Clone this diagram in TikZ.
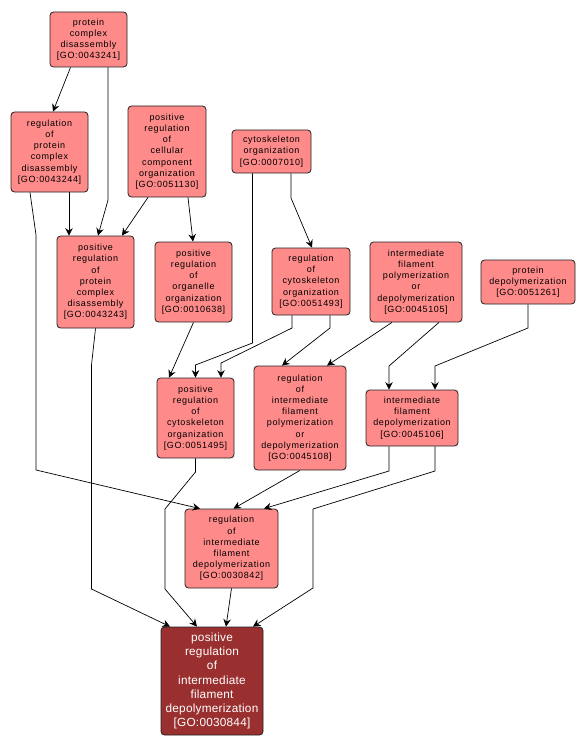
\documentclass[tikz,border=0pt]{standalone}
\usepackage{xcolor}
\usepackage{tikz}
\usepackage{fontspec}
\usetikzlibrary{arrows.meta}
\definecolor{TermPink}{HTML}{FF8A8A}
\definecolor{RootRed}{HTML}{9A2F2F}
\definecolor{EdgeGrey}{HTML}{222222}
\newfontfamily\termfont[LetterSpace=7]{Liberation Sans}
\newfontfamily\rootfont[LetterSpace=2]{Liberation Sans}

\begin{document}
\begin{tikzpicture}[x=1pt, y=-1pt,
    goterm/.style={draw=EdgeGrey, fill=TermPink, line width=0.8pt,
      rounded corners=3.5pt, inner sep=0pt, align=center,
      font=\termfont\fontsize{9}{11.2}\selectfont},
    goroot/.style={goterm, fill=RootRed, text=white,
      font=\rootfont\fontsize{11.8}{14.2}\selectfont},
    isa/.style={draw=black, line width=0.7pt,
      -{Stealth[length=7.5pt, width=7.5pt, inset=2.5pt]}}]
  \useasboundingbox (0,0) rectangle (585,749);

  \node[goterm, minimum width=77, minimum height=55] (go43241) at (88.5,39.5)
    {protein\\complex\\disassembly\\{[}GO:0043241{]}};
  \node[goterm, minimum width=77, minimum height=80] (go43244) at (49.5,152)
    {regulation\\of\\protein\\complex\\disassembly\\{[}GO:0043244{]}};
  \node[goterm, minimum width=78, minimum height=91] (go51130) at (167,151.5)
    {positive\\regulation\\of\\cellular\\component\\organization\\{[}GO:0051130{]}};
  \node[goterm, minimum width=79, minimum height=43] (go7010) at (271.5,151.5)
    {cytoskeleton\\organization\\{[}GO:0007010{]}};
  \node[goterm, minimum width=77, minimum height=92] (go43243) at (95.5,282)
    {positive\\regulation\\of\\protein\\complex\\disassembly\\{[}GO:0043243{]}};
  \node[goterm, minimum width=77, minimum height=80] (go10638) at (193.5,282)
    {positive\\regulation\\of\\organelle\\organization\\{[}GO:0010638{]}};
  \node[goterm, minimum width=78, minimum height=67] (go51493) at (311,281.5)
    {regulation\\of\\cytoskeleton\\organization\\{[}GO:0051493{]}};
  \node[goterm, minimum width=92, minimum height=80] (go45105) at (416,282)
    {intermediate\\filament\\polymerization\\or\\depolymerization\\{[}GO:0045105{]}};
  \node[goterm, minimum width=94, minimum height=44] (go51261) at (528,282)
    {protein\\depolymerization\\{[}GO:0051261{]}};
  \node[goterm, minimum width=77, minimum height=80] (go51495) at (195.5,418)
    {positive\\regulation\\of\\cytoskeleton\\organization\\{[}GO:0051495{]}};
  \node[goterm, minimum width=92, minimum height=104] (go45108) at (300,418)
    {regulation\\of\\intermediate\\filament\\polymerization\\or\\depolymerization\\{[}GO:0045108{]}};
  \node[goterm, minimum width=92, minimum height=56] (go45106) at (412,418)
    {intermediate\\filament\\depolymerization\\{[}GO:0045106{]}};
  \node[goterm, minimum width=93, minimum height=79] (go30842) at (231.5,548.5)
    {regulation\\of\\intermediate\\filament\\depolymerization\\{[}GO:0030842{]}};
  \node[goroot, minimum width=102, minimum height=108] (go30844) at (212,681)
    {positive\\regulation\\of\\intermediate\\filament\\depolymerization\\{[}GO:0030844{]}};

  \draw[isa] ([xshift=-18]go43241.south) -- ([xshift=3.5]go43244.north);
  \draw[isa] ([xshift=19.5]go43241.south) -- (108,200) -- ([xshift=2.5]go43243.north);
  \draw[isa] ([xshift=19.5]go43244.south) -- ([xshift=-26.5]go43243.north);
  \draw[isa] ([xshift=-19]go51130.south) -- ([xshift=26.5]go43243.north);
  \draw[isa] ([xshift=21]go51130.south) -- ([xshift=-0.5]go10638.north);
  \draw[isa] ([xshift=19.5]go7010.south) -- (291,198) -- ([xshift=1]go51493.north);
  \draw[isa] ([xshift=-19.5]go43244.south) -- (36,235) -- (36,470) -- ([xshift=-31.5]go30842.north);
  \draw[isa] (go43243.south) -- (91.5,365) -- (91.5,589) -- ([xshift=-42]go30844.north);
  \draw[isa] (go10638.south) -- ([xshift=-26.5]go51495.north);
  \draw[isa] ([xshift=-19]go7010.south) -- (252.5,343) -- (195.5,365) -- (go51495.north);
  \draw[isa] ([xshift=-19]go51493.south) -- (292,328) -- (221,363) -- ([xshift=25.5]go51495.north);
  \draw[isa] ([xshift=19]go51493.south) -- (330,328) -- ([xshift=-18]go45108.north);
  \draw[isa] ([xshift=-24]go45105.south) -- ([xshift=27]go45108.north);
  \draw[isa] ([xshift=23]go45105.south) -- (389,366) -- ([xshift=-23]go45106.north);
  \draw[isa] (go51261.south) -- (528,328) -- (435,366) -- ([xshift=23]go45106.north);
  \draw[isa] ([xshift=-23]go45106.south) -- (389,471) -- ([xshift=32.5]go30842.north);
  \draw[isa] ([xshift=23]go45106.south) -- (435,471) -- (313,509) -- (313,588) -- ([xshift=41]go30844.north);
  \draw[isa] (go45108.south) -- ([xshift=2]go30842.north);
  \draw[isa] (go51495.south) -- (195.5,472) -- (165,509) -- (165,589) -- ([xshift=-15]go30844.north);
  \draw[isa] (go30842.south) -- ([xshift=14]go30844.north);
\end{tikzpicture}
\end{document}
